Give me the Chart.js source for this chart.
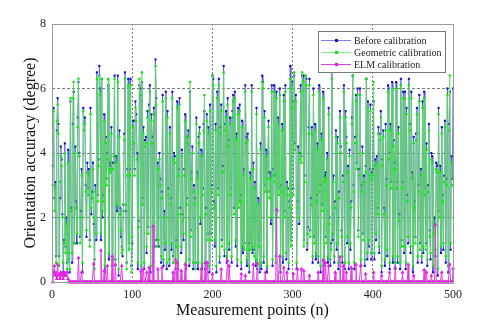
<!DOCTYPE html>
<html>
<head>
<meta charset="utf-8">
<script src="https://cdn.jsdelivr.net/npm/chart.js@4"></script>
<style>
  html, body { margin: 0; padding: 0; background: #fff; }
  #wrap { width: 482px; height: 326px; }
</style>
</head>
<body>
<div id="wrap"><canvas id="chart" width="482" height="326"></canvas></div>
<script>
// Orientation accuracy of 500 measurement points, before/after calibration
const xTicks = [0, 100, 200, 300, 400, 500];
const yTicks = [0, 2, 4, 6, 8];
const seriesNames = ['Before calibration', 'Geometric calibration', 'ELM calibration'];

const before = [
  3.6,5.4,2.6,3.1,0.8,4.7,5.7,4.9,0.8,2.6,4.2,3.8,2.1,0.3,1.3,4.3,1.1,2.0,0.6,4.1,
  0.9,0.3,5.6,2.3,0.6,4.9,5.9,1.2,4.2,2.5,1.2,5.1,6.2,4.0,1.4,2.2,3.5,0.3,5.4,4.9,
  5.1,3.0,1.4,3.7,2.9,3.5,1.3,5.4,2.1,2.8,3.7,1.8,0.7,3.0,1.3,6.5,2.7,3.8,6.7,6.0,
  1.3,6.3,2.0,2.7,5.2,0.3,4.5,3.2,4.0,6.1,0.7,3.7,3.6,4.8,0.5,3.7,3.7,6.4,0.7,3.9,
  2.2,6.4,0.2,4.7,2.3,1.4,1.1,0.8,2.4,4.6,6.5,2.2,0.6,3.5,6.3,1.2,3.5,6.3,0.5,1.2,
  5.0,5.0,3.5,5.6,5.2,4.0,0.4,1.9,6.1,6.0,0.3,6.2,2.6,4.8,0.4,4.4,4.5,0.9,5.3,1.7,
  5.5,6.1,0.3,5.2,4.5,0.6,5.4,1.1,6.9,5.7,1.3,3.7,1.1,4.0,3.2,0.6,2.8,5.8,0.5,2.2,
  1.0,5.9,0.4,5.3,2.9,0.5,4.8,2.6,1.0,5.9,0.8,4.0,3.9,0.4,1.3,5.6,0.4,3.5,5.7,2.3,
  0.9,4.1,2.1,1.3,3.5,5.2,0.4,2.6,4.5,4.7,0.5,5.9,1.6,3.4,4.2,0.4,3.0,2.6,0.6,5.1,
  3.4,0.4,4.5,4.8,1.8,4.1,0.4,2.9,4.9,5.3,0.4,2.3,5.2,1.5,4.8,0.3,5.5,1.5,3.0,6.4,
  6.3,2.5,1.1,4.9,0.3,5.9,2.9,6.3,0.6,4.8,5.5,1.3,3.6,6.7,0.8,4.9,5.3,0.6,5.7,4.4,
  1.0,5.1,2.9,0.6,5.3,5.8,2.3,5.9,1.1,4.6,0.5,5.4,2.5,5.5,2.7,0.4,5.0,0.9,3.5,1.2,
  6.1,4.5,0.5,4.6,1.2,0.3,3.4,1.2,6.1,0.9,3.7,1.0,3.1,0.5,5.4,0.4,2.6,1.3,0.3,4.3,
  0.4,6.4,6.2,0.6,5.3,3.0,4.1,0.3,3.4,5.0,2.8,3.4,1.8,6.1,0.5,3.5,6.1,3.3,0.8,5.9,
  2.2,5.1,2.9,6.0,0.3,3.0,4.9,0.6,5.8,2.2,6.1,0.7,3.1,2.9,0.4,2.5,6.7,1.3,6.2,5.6,
  2.9,6.4,4.3,5.8,0.4,2.5,4.2,1.8,4.0,6.1,3.9,6.4,6.4,1.3,3.3,6.4,6.3,1.0,1.7,4.8,
  6.3,1.6,2.6,4.8,0.6,6.0,1.4,4.9,0.7,2.7,4.3,0.6,6.1,3.0,0.3,4.6,2.4,5.9,0.5,3.3,
  3.4,1.4,4.0,0.6,5.4,2.0,0.5,1.2,6.6,1.3,3.3,0.6,2.5,4.7,1.0,4.5,0.4,2.8,5.3,4.2,
  1.6,0.6,3.3,6.1,0.4,5.3,4.5,1.2,3.6,0.4,4.1,1.0,2.5,5.1,6.4,3.0,0.4,4.5,5.8,3.7,
  6.0,1.6,3.5,6.0,0.5,3.0,4.2,1.5,3.3,0.5,3.6,6.3,0.7,5.6,1.1,3.5,5.5,0.7,3.4,3.5,
  5.6,0.7,3.8,1.3,3.9,2.3,4.8,0.9,4.6,5.3,0.3,3.8,4.7,2.3,0.5,4.9,3.2,0.8,6.1,4.0,
  0.4,4.9,3.1,6.2,0.6,4.4,3.7,0.4,6.2,3.1,0.6,4.8,2.1,0.4,6.3,1.3,3.1,5.9,0.9,5.9,
  0.4,5.4,2.7,1.2,6.3,4.9,0.9,5.9,3.4,0.3,4.5,2.5,1.4,4.6,5.4,0.6,3.0,5.8,1.2,3.5,
  0.6,5.6,0.9,5.9,2.9,1.2,4.3,0.5,3.0,4.9,1.6,0.7,4.0,3.9,0.3,1.7,2.0,0.8,3.7,3.6,
  0.2,5.4,2.2,3.6,0.9,4.8,2.7,1.0,3.3,5.0,0.6,3.2,6.0,0.3,4.9,5.9,1.0,3.9,3.2,6.0
];

const geometric = [
  3.0,5.3,2.2,2.9,0.6,5.0,5.5,4.6,0.5,3.1,3.9,3.6,2.0,0.6,1.2,4.0,0.9,1.8,0.4,3.7,
  0.7,0.4,5.7,2.2,0.9,5.7,6.2,1.2,4.0,2.3,1.5,4.8,6.3,3.9,1.2,2.0,3.3,0.6,5.3,4.7,
  4.9,2.8,1.6,3.4,2.7,3.3,1.1,5.2,2.3,2.6,3.5,2.0,0.4,2.8,1.5,6.3,2.5,3.6,6.4,5.8,
  1.5,6.3,2.2,2.5,5.0,0.5,4.3,3.0,3.8,6.3,0.9,3.5,3.4,4.6,0.7,3.5,3.9,6.3,0.5,3.7,
  2.4,6.2,0.4,4.5,2.1,1.6,0.9,1.0,2.2,4.4,6.3,2.4,0.4,3.3,6.1,1.0,3.3,6.1,0.3,1.4,
  4.8,4.3,3.3,5.4,5.0,3.8,0.6,1.7,6.3,5.8,0.5,6.5,2.4,4.6,0.6,4.2,4.3,1.1,5.1,1.5,
  5.3,5.9,0.5,5.0,4.3,0.8,5.2,1.3,6.7,5.5,1.1,3.5,1.3,3.8,3.0,0.8,2.6,5.6,0.7,2.0,
  1.2,5.7,0.6,5.1,2.7,0.7,4.6,2.4,1.2,5.7,0.6,3.8,3.7,0.6,1.1,5.4,0.6,3.3,5.5,2.1,
  1.1,3.9,1.9,1.5,3.3,5.0,0.6,2.4,4.3,4.5,0.7,6.2,1.4,3.2,4.0,0.6,2.8,2.4,0.4,4.9,
  3.2,0.6,4.3,4.6,2.0,3.9,0.6,2.7,4.7,5.8,0.6,2.1,5.0,1.3,4.6,0.5,5.3,1.3,2.8,6.4,
  6.1,2.3,1.3,4.7,0.5,5.7,2.7,6.1,0.8,4.6,5.3,1.1,3.4,6.5,1.0,4.7,5.1,0.8,5.5,4.2,
  1.2,4.9,2.7,0.8,5.1,5.6,2.1,5.7,1.3,4.4,0.7,5.2,2.3,5.3,2.5,0.6,4.8,1.1,3.3,1.0,
  5.9,4.3,0.7,4.4,1.0,0.5,3.2,1.0,5.9,1.1,3.5,0.8,2.9,0.7,5.2,0.6,2.4,1.1,0.5,4.1,
  0.6,6.2,6.0,0.8,5.1,2.8,3.9,0.5,3.2,4.8,2.6,3.2,2.0,5.9,0.7,3.3,5.9,3.1,0.6,5.7,
  2.0,4.9,2.7,5.8,0.5,2.8,4.7,0.8,5.6,2.0,5.9,0.9,2.9,2.7,0.6,2.3,6.3,1.1,6.0,5.4,
  2.7,6.5,4.1,5.6,0.6,2.3,4.0,2.0,3.8,5.9,3.7,6.5,6.2,1.1,3.1,6.4,6.1,1.2,1.5,4.6,
  6.1,1.4,2.4,4.6,0.8,5.8,1.2,4.7,0.9,2.5,4.1,0.8,5.9,2.8,0.5,4.4,2.2,5.7,0.7,3.1,
  3.2,1.2,3.8,0.8,5.2,1.8,0.7,1.0,6.3,1.5,3.1,0.8,2.3,4.5,1.2,4.3,0.6,2.6,5.1,4.0,
  1.4,0.8,3.1,5.9,0.6,5.1,4.3,1.4,3.4,0.6,3.9,1.2,2.3,4.9,6.4,2.8,0.6,4.3,5.6,3.5,
  5.8,1.4,3.3,5.8,0.7,2.8,4.0,1.3,3.1,0.7,3.4,6.3,0.9,5.4,1.3,3.3,5.3,0.9,3.2,3.3,
  6.2,0.9,3.6,1.5,3.7,2.1,4.6,1.1,4.4,5.1,0.5,3.6,4.5,2.1,0.7,4.7,3.0,1.0,5.9,3.8,
  0.6,4.7,2.9,6.0,0.8,4.2,3.5,0.6,6.0,2.9,0.8,4.6,1.9,0.6,6.1,1.1,2.9,5.7,1.1,5.7,
  0.6,5.2,2.5,1.4,6.1,4.7,1.1,5.7,3.2,0.5,4.3,2.3,1.2,4.4,5.2,0.8,2.8,5.6,1.0,3.3,
  0.8,5.4,1.1,5.7,2.7,1.0,4.1,0.7,2.8,4.7,1.4,0.9,3.8,3.7,0.5,1.5,1.8,1.0,3.5,3.4,
  0.4,5.2,2.0,3.4,1.1,4.6,2.5,1.2,3.1,4.8,0.8,3.0,5.8,0.5,4.7,6.4,1.2,3.7,3.0,3.0
];

const elm = [
  0,0.3,0.5,0.2,0.3,0.1,0.55,0.2,0.25,0.1,0.3,0.2,0.25,0.1,0.3,0.2,0.2,0.3,0.3,0.1,
  0,0,0,0,0,0,0,0,0,0,0,0,0.75,0,0,0,0.3,0,0,0,
  0,0,0,0,0,0,0,0,0,0,0,0.57,0,0,0,0,0,0,0,0,
  0.98,0,0,0,0.35,0,0,0,0.5,0,0,0,0,0,0.8,0,0,0,0.55,0,
  0,0,0,0,0,0,0.5,0,0,0,0,0,0,0,0,0,0,0,0,0,
  0,0,0,0,0,0,0,0,0,0,0.35,0,0,0.4,0,0,0,0.3,0,0,
  0.45,0,0,0,0,1.73,0,0,0,0,0,0.4,0,0,0,0,0.45,0,0,0,
  0,0,0,0,0,0,0,0,0,0,0.3,0,0,0.7,0,0.6,0,0,0,0,
  0.35,0,0,0,0,0.55,0,0,0,0,0,0,0,0,0,0,0,0,0,0,
  0,0,0,0,0,0.4,0,0,0,0,0.6,0,0,0.6,0,0,0,0,0,0.25,
  0,0,0,0,0,0,0,0,0,0,0.4,0,0,0,0,0,0,0,0.65,0,
  0.5,0,0,0,0,0,0,0,0,0,0,0,0,0,0,0.25,0,0,0,0,
  0.2,0,0,0,0,0,0,0,0,0,0.55,0,0,0,0,0.57,0,0,0,0,
  0,0,0,0,0,0.3,0,0,0,0,0,0,0,0,0,0,0,0,0,2.25,
  0,0,0,0.8,0,0,0,0,0.45,0,0,0,0.3,0,0,0,0,0,0,0,
  0.25,0,0,0,0,0.4,0,0,0,0,0.4,0,0,0.35,0,0,0,0,0,0,
  0.2,0,0,0,0,0,0,0,0,0,0,0.3,0,0,0,0,0,0.68,0,0,
  0.6,0,0,0,0.5,0,0,0,0,0,0,0,0.3,0,0,0,0,0,0.78,0,
  0,0,0.5,0,0,0,0.3,0,0,0,0,0,0.45,0,0,0,0,0,0.55,0,
  0,0,0,0,0.5,0,0,0,0,0,0.25,0,0,0,0,0,0,0,0,0,
  0.3,0,0,0,0,0,0,0,0,0,0.2,0,0,0,0,0,0,0,0,0,
  0.3,0,0,0,0,0,0,0.45,0,0,0,0,0,0,0,0,0.3,0,0,0,
  0,0,0,0.55,0,0,0,0,0,0,0.2,0,0,0,0,0,0,0,0,0,
  0,0,0,0.38,0,0,0.3,0,0,0,0,0,0.2,0,0,0,0,1.78,0,0,
  0,0,0,0,0,0.3,0,0,0,0,0,0,0,0,0,0.55,0,0,0,0.42
];

const serif = '"Liberation Serif", "Times New Roman", serif';

// measurement point numbers 1..500
function toPoints(values) {
  return values.map((v, i) => ({ x: i + 1, y: v }));
}

const styles = [
  { line: 'rgba(70,70,225,0.7)', point: '#1010c0', style: 'rect', r: 1.5 },
  { line: 'rgba(85,225,85,0.75)', point: '#14e614', style: 'circle', r: 1.3 },
  { line: '#e23ee2', point: '#e020e0', style: 'triangle', r: 2.3 }
];

// legend box drawn inside the plot, top right
const boxLegend = {
  id: 'boxLegend',
  afterDraw(chart) {
    const ctx = chart.ctx;
    const x0 = 318, y0 = 31, w = 127, h = 41;
    ctx.save();
    ctx.fillStyle = '#fff';
    ctx.fillRect(x0, y0, w, h);
    ctx.strokeStyle = '#777';
    ctx.lineWidth = 1;
    ctx.strokeRect(x0 + 0.5, y0 + 0.5, w, h);
    ctx.font = '10px ' + serif;
    ctx.textBaseline = 'middle';
    seriesNames.forEach((name, k) => {
      const y = y0 + 9.5 + k * 12;
      ctx.strokeStyle = styles[k].line;
      ctx.beginPath();
      ctx.moveTo(x0 + 3, y);
      ctx.lineTo(x0 + 33, y);
      ctx.stroke();
      ctx.fillStyle = styles[k].point;
      ctx.fillRect(x0 + 17, y - 1.5, 3, 3);
      ctx.fillStyle = '#222';
      ctx.fillText(name, x0 + 36, y + 0.5);
    });
    ctx.restore();
  }
};

// grey frame around the plot area
const frame = {
  id: 'frame',
  afterDatasetsDraw(chart) {
    const a = chart.chartArea;
    const ctx = chart.ctx;
    ctx.save();
    ctx.strokeStyle = '#9a9a9a';
    ctx.lineWidth = 1;
    ctx.strokeRect(Math.round(a.left) + 0.5, Math.round(a.top) + 0.5,
      Math.round(a.right - a.left), Math.round(a.bottom - a.top));
    ctx.restore();
  }
};

const datasets = [before, geometric, elm].map((vals, k) => ({
  label: seriesNames[k],
  data: toPoints(vals),
  borderColor: styles[k].line,
  borderWidth: 1,
  pointStyle: styles[k].style,
  pointRadius: styles[k].r,
  pointBorderWidth: 0,
  pointBackgroundColor: styles[k].point,
  pointBorderColor: styles[k].point,
  tension: 0,
  order: 2 - k,
  clip: k === 2 ? 4 : 1
}));

new Chart(document.getElementById('chart'), {
  type: 'line',
  data: { datasets },
  options: {
    responsive: false,
    animation: false,
    events: [],
    layout: { padding: { top: 24, right: 29, left: 0, bottom: 0 } },
    plugins: { legend: { display: false }, tooltip: { enabled: false } },
    scales: {
      x: {
        type: 'linear',
        min: 0,
        max: 500,
        afterBuildTicks: s => { s.ticks = xTicks.map(v => ({ value: v })); },
        afterFit: s => { s.height = 44; },
        border: { display: false, dash: [2, 2] },
        grid: {
          drawTicks: false,
          color: c => (c.tick && c.tick.value > 0 && c.tick.value < 500) ? '#7a7a7a' : 'rgba(0,0,0,0)',
          lineWidth: 1
        },
        ticks: { color: '#222', padding: 6, font: { family: serif, size: 12 } },
        title: {
          display: true,
          text: 'Measurement points (n)',
          color: '#111',
          padding: { top: 0, bottom: 6 },
          font: { family: serif, size: 16 }
        }
      },
      y: {
        min: 0,
        max: 8,
        afterBuildTicks: s => { s.ticks = yTicks.map(v => ({ value: v })); },
        afterFit: s => { s.width = 52; },
        border: { display: false, dash: [3, 2] },
        grid: {
          drawTicks: false,
          color: c => (c.tick && c.tick.value > 0 && c.tick.value < 8) ? '#7a7a7a' : 'rgba(0,0,0,0)',
          lineWidth: 1
        },
        ticks: { color: '#222', padding: 6, font: { family: serif, size: 12 } },
        title: {
          display: true,
          text: 'Orientation accuracy (degree)',
          color: '#111',
          padding: { top: 21, bottom: 0 },
          font: { family: serif, size: 16 }
        }
      }
    }
  },
  plugins: [frame, boxLegend]
});
</script>
</body>
</html>
